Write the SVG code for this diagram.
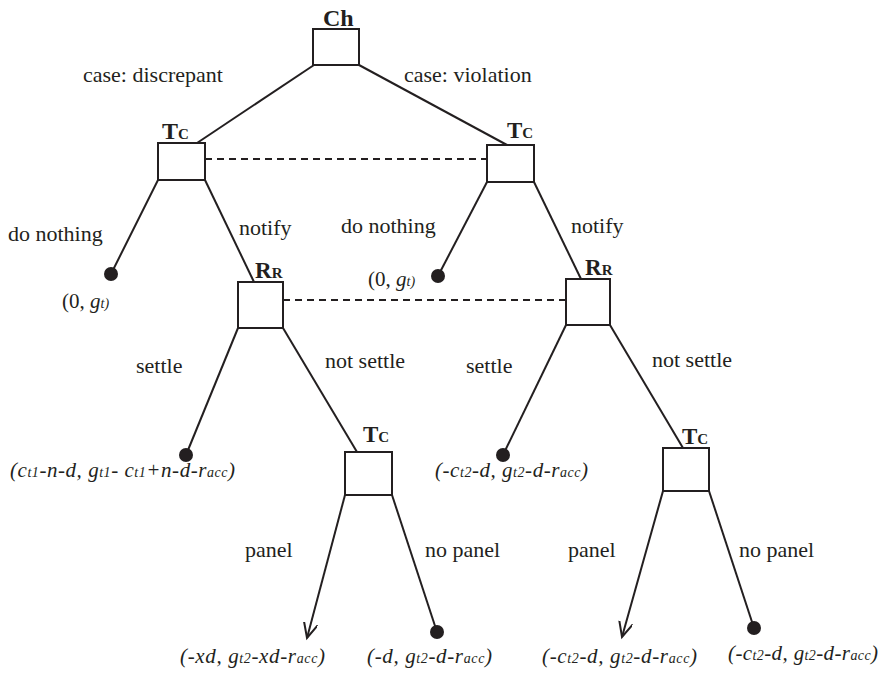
<svg xmlns="http://www.w3.org/2000/svg" width="881" height="675" viewBox="0 0 881 675">
<defs>
<style>
.bg{fill:#ffffff}
.box{fill:#ffffff;stroke:#231f20;stroke-width:2}
.edge{stroke:#231f20;stroke-width:2;fill:none}
.info{stroke:#231f20;stroke-width:2;stroke-dasharray:7 5;fill:none}
.dot{fill:#231f20}
.lbl{font-family:"Liberation Serif","Times New Roman",serif;font-size:22px;fill:#231f20}
.pl{font-family:"Liberation Serif","Times New Roman",serif;font-weight:bold;fill:#231f20}
.big{font-size:24px}
.sm{font-size:15px}
.pay{font-family:"Liberation Serif","Times New Roman",serif;font-style:italic;font-size:21px;fill:#231f20}
.sub{font-size:14px}
.up{font-style:normal}
</style>
<marker id="open" markerUnits="userSpaceOnUse" markerWidth="20" markerHeight="20" refX="15" refY="7" orient="auto">
<path d="M0,0 L15,7 L0,14" fill="none" stroke="#231f20" stroke-width="2"/>
</marker>
</defs>
<rect class="bg" x="0" y="0" width="881" height="675"/>

<g id="connectors">
<line class="edge" x1="314" y1="65" x2="197" y2="143"/>
<line class="edge" x1="359" y1="65" x2="507" y2="145"/>
<line class="info" x1="205" y1="159" x2="487" y2="159"/>
<line class="edge" x1="158" y1="180" x2="111" y2="274"/>
<line class="edge" x1="205" y1="180" x2="254" y2="282"/>
<line class="edge" x1="487" y1="182" x2="438" y2="276"/>
<line class="edge" x1="534" y1="182" x2="581" y2="279"/>
<line class="info" x1="283" y1="300" x2="566" y2="300"/>
<line class="edge" x1="238" y1="328" x2="186" y2="455"/>
<line class="edge" x1="283" y1="328" x2="357" y2="452"/>
<line class="edge" x1="566" y1="325" x2="503" y2="455"/>
<line class="edge" x1="610" y1="325" x2="683" y2="448"/>
<line class="edge" x1="345" y1="495" x2="307" y2="638" marker-end="url(#open)"/>
<line class="edge" x1="392" y1="495" x2="437" y2="632"/>
<line class="edge" x1="663" y1="491" x2="622" y2="637" marker-end="url(#open)"/>
<line class="edge" x1="709" y1="491" x2="754" y2="628"/>
<text class="lbl" x="83" y="82">case: discrepant</text>
<text class="lbl" x="404" y="82">case: violation</text>
<text class="lbl" x="8" y="241">do nothing</text>
<text class="lbl" x="239" y="235">notify</text>
<text class="lbl" x="341" y="233">do nothing</text>
<text class="lbl" x="571" y="233">notify</text>
<text class="lbl" x="136" y="373">settle</text>
<text class="lbl" x="325" y="368">not settle</text>
<text class="lbl" x="466" y="373">settle</text>
<text class="lbl" x="652" y="367">not settle</text>
<text class="lbl" x="245" y="557">panel</text>
<text class="lbl" x="425" y="557">no panel</text>
<text class="lbl" x="568" y="557">panel</text>
<text class="lbl" x="739" y="557">no panel</text>
</g>

<g id="node-ch">
<rect class="box" x="313" y="29" width="46" height="36"/>
<text class="pl big" x="323" y="26">Ch</text>
</g>
<g id="node-tc-left">
<rect class="box" x="158" y="143" width="47" height="37"/>
<text class="pl" x="162" y="139"><tspan class="big" font-size="23">T</tspan><tspan class="sm">C</tspan></text>
</g>
<g id="node-tc-right">
<rect class="box" x="487" y="145" width="47" height="37"/>
<text class="pl" x="507" y="138"><tspan font-size="23">T</tspan><tspan class="sm">C</tspan></text>
</g>
<g id="node-rr-left">
<rect class="box" x="238" y="282" width="45" height="46"/>
<text class="pl" x="255" y="278"><tspan font-size="23">R</tspan><tspan class="sm">R</tspan></text>
</g>
<g id="node-rr-right">
<rect class="box" x="566" y="279" width="44" height="46"/>
<text class="pl" x="585" y="275"><tspan font-size="23">R</tspan><tspan class="sm">R</tspan></text>
</g>
<g id="node-tc-bl">
<rect class="box" x="345" y="452" width="47" height="43"/>
<text class="pl" x="363" y="442"><tspan font-size="23">T</tspan><tspan class="sm">C</tspan></text>
</g>
<g id="node-tc-br">
<rect class="box" x="663" y="448" width="46" height="43"/>
<text class="pl" x="682" y="444"><tspan font-size="23">T</tspan><tspan class="sm">C</tspan></text>
</g>

<g id="leaf-dn-left">
<circle class="dot" cx="111" cy="274" r="7"/>
<text class="pay" x="62" y="308"><tspan class="up">(0, </tspan>g<tspan class="sub">t)</tspan></text>
</g>
<g id="leaf-dn-right">
<circle class="dot" cx="438" cy="276" r="7"/>
<text class="pay" x="368" y="286"><tspan class="up">(0, </tspan>g<tspan class="sub">t)</tspan></text>
</g>
<g id="leaf-settle-left">
<circle class="dot" cx="186" cy="455" r="7"/>
<text class="pay" x="10" y="477" textLength="225" lengthAdjust="spacing">(c<tspan class="sub">t1</tspan>-n-d, g<tspan class="sub">t1</tspan>- c<tspan class="sub">t1</tspan>+n-d-r<tspan class="sub">acc</tspan>)</text>
</g>
<g id="leaf-settle-right">
<circle class="dot" cx="503" cy="455" r="7"/>
<text class="pay" x="435" y="477" textLength="153" lengthAdjust="spacing">(-c<tspan class="sub">t2</tspan>-d, g<tspan class="sub">t2</tspan>-d-r<tspan class="sub">acc</tspan>)</text>
</g>
<g id="leaf-panel-left">
<text class="pay" x="180" y="663" textLength="145" lengthAdjust="spacing">(-xd, g<tspan class="sub">t2</tspan>-xd-r<tspan class="sub">acc</tspan>)</text>
</g>
<g id="leaf-nopanel-left">
<circle class="dot" cx="437" cy="632" r="7"/>
<text class="pay" x="367" y="663" textLength="125" lengthAdjust="spacing">(-d, g<tspan class="sub">t2</tspan>-d-r<tspan class="sub">acc</tspan>)</text>
</g>
<g id="leaf-panel-right">
<text class="pay" x="542" y="663" textLength="155" lengthAdjust="spacing">(-c<tspan class="sub">t2</tspan>-d, g<tspan class="sub">t2</tspan>-d-r<tspan class="sub">acc</tspan>)</text>
</g>
<g id="leaf-nopanel-right">
<circle class="dot" cx="754" cy="628" r="7"/>
<text class="pay" x="728" y="660" textLength="150" lengthAdjust="spacing">(-c<tspan class="sub">t2</tspan>-d, g<tspan class="sub">t2</tspan>-d-r<tspan class="sub">acc</tspan>)</text>
</g>
</svg>
